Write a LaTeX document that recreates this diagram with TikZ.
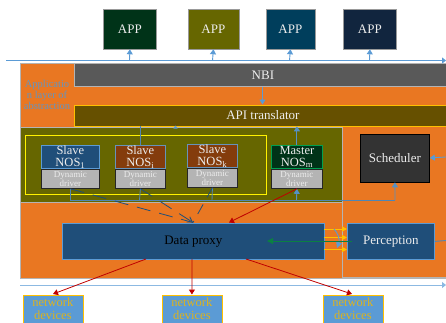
\documentclass[tikz,border=0pt]{standalone}
\usepackage{fontspec}
\setmainfont{Liberation Serif}
\usetikzlibrary{arrows.meta,positioning}
\definecolor{orangebg}{HTML}{E97722}
\definecolor{olive}{HTML}{666600}
\definecolor{brownbar}{HTML}{665000}
\definecolor{barblue}{HTML}{5B9BD5}
\definecolor{navy}{HTML}{1F4E79}
\definecolor{rust}{HTML}{843C0C}
\definecolor{lgray}{HTML}{B4B4B4}
\definecolor{gold}{HTML}{FFC000}
\definecolor{goldtext}{HTML}{DDB31F}
\definecolor{appgreen}{HTML}{003318}
\definecolor{appteal}{HTML}{003E5C}
\definecolor{appnavy}{HTML}{11253E}
\definecolor{mastergreen}{HTML}{003318}
\definecolor{masteredge}{HTML}{00A050}
\definecolor{arrowgreen}{HTML}{0B8043}
\definecolor{nbigray}{HTML}{595959}
\definecolor{schedgray}{HTML}{333333}
\definecolor{linkblue}{HTML}{4F86B5}
\definecolor{dimwhite}{HTML}{EDEDED}
\tikzset{
 box/.style={inner sep=0pt,align=center,anchor=north west},
 big/.style={font=\fontsize{13}{13.5}\selectfont},
 appbox/.style={box,big,draw=gray!80,line width=.8pt,text=dimwhite,minimum height=40pt},
 nosbox/.style={box,line width=.8pt,text=dimwhite,minimum height=23pt,font=\fontsize{12.5}{12}\selectfont},
 drvbox/.style={box,draw=black!85,fill=lgray,line width=.8pt,text=dimwhite,minimum height=19pt,font=\fontsize{9}{9.5}\selectfont},
 netbox/.style={box,draw=gold,fill=barblue,line width=.8pt,text=goldtext,minimum width=60pt,minimum height=28pt,font=\fontsize{12.5}{13.5}\selectfont},
 blueln/.style={barblue,line width=.9pt,-{Triangle[length=5pt,width=6pt]}},
 plainblue/.style={barblue,line width=.9pt},
 linkln/.style={linkblue,line width=.9pt},
 redln/.style={red!75!black,line width=.8pt,-{Triangle[length=5pt,width=6pt]}},
 orgln/.style={gold,line width=1pt,-{Triangle[length=5pt,width=5pt]}},
}
\begin{document}
\begin{tikzpicture}[x=1pt,y=-1pt]
\useasboundingbox (0,0) rectangle (446,322);
% panels
\node[box,draw=lgray,fill=orangebg,line width=.8pt,minimum width=430pt,minimum height=215pt] (outer) at (20,62.5) {};
\node[box,draw=lgray,line width=.8pt,minimum width=110pt,minimum height=150.5pt] (rpanel) at (341.5,126) {};
\node[box,draw=lgray,fill=olive,line width=.8pt,minimum width=321.5pt,minimum height=75.5pt] (olivebox) at (20,126.5) {};
\node[box,draw=yellow,line width=.8pt,minimum width=240.5pt,minimum height=59pt] (yellowbox) at (25,134.5) {};
\node[box,big,draw=lgray,fill=nbigray,text=dimwhite,line width=.8pt,minimum width=377pt,minimum height=23pt] (nbi) at (74,63) {NBI};
\node[box,big,draw=gold,fill=brownbar,text=dimwhite,line width=.8pt,minimum width=377pt,minimum height=21pt] (api) at (74,104.5) {API translator};
\node[align=center,text=barblue!75!gray,font=\fontsize{10.5}{11}\selectfont,inner sep=0pt] (applbl) at (47,94.5) {Applicatio\\n layer of\\abstraction};
% APPs
\node[appbox,fill=appgreen,minimum width=53pt] (a1) at (103,8.5) {APP};
\node[appbox,fill=olive,minimum width=51pt] (a2) at (187.5,8.5) {APP};
\node[appbox,fill=appteal,minimum width=49pt] (a3) at (265.5,8.5) {APP};
\node[appbox,fill=appnavy,minimum width=53pt] (a4) at (343,8.5) {APP};
% rails
\coordinate (railL) at (6,60.5); \coordinate (railR) at (446,60.5);
\draw[plainblue,-{Triangle[length=4pt,width=6pt]}] (railL) -- (railR);
\coordinate (lowL) at (20,285); \coordinate (lowR) at (446,285);
\draw[plainblue,barblue!70!white,-{Triangle[length=4pt,width=6pt]}] (lowL) -- (lowR);
\draw[blueln] (129.5,60.5) -- (a1.south);
\draw[blueln] (212.5,60.5) -- (a2.south);
\draw[blueln] (289.5,60.5) -- (a3.south);
\draw[blueln] (369.5,60.5) -- (a4.south);
% NOS
\node[nosbox,draw=barblue,fill=navy,minimum width=58pt] (s1) at (41,145) {Slave\\NOS\textsubscript{1}};
\node[nosbox,draw=barblue!70!gray,fill=rust,minimum width=50pt] (s2) at (115,145) {Slave\\NOS\textsubscript{i}};
\node[nosbox,draw=barblue!70!gray,fill=rust,minimum width=50pt] (s3) at (187,144) {Slave\\NOS\textsubscript{k}};
\node[nosbox,draw=masteredge,fill=mastergreen,minimum width=51pt] (m) at (271,145) {Master\\NOS\textsubscript{m}};
\node[drvbox,minimum width=58pt] (d1) at (41,169) {Dynamic\\driver};
\node[drvbox,minimum width=50pt] (d2) at (115,169) {Dynamic\\driver};
\node[drvbox,minimum width=50pt] (d3) at (187,168) {Dynamic\\driver};
\node[drvbox,minimum width=51pt] (d4) at (271,169) {Dynamic\\driver};
\node[box,big,draw=black,fill=schedgray,text=dimwhite,line width=.8pt,minimum width=69pt,minimum height=48pt] (sch) at (360,133.5) {Scheduler};
% proxy
\node[box,big,draw=barblue,fill=navy,line width=.8pt,minimum width=262pt,minimum height=36pt,text=black] (dp) at (62,223) {Data proxy};
\node[box,big,draw=barblue,fill=navy,line width=.8pt,minimum width=87pt,minimum height=36pt,text=dimwhite] (per) at (347,223) {Perception};
% net
\node[netbox] (n1) at (22.5,294.5) {network\\devices};
\node[netbox] (n2) at (161.5,294.5) {network\\devices};
\node[netbox] (n3) at (322.5,294.5) {network\\devices};
% blue connectors
\draw[blueln] (nbi.south -| 262.5,0) -- (api.north -| 262.5,0);
\draw[linkln] (d1.south) |- (395,200);
\draw[linkln] (d2.south) -- (139.5,200);
\draw[linkln] (d3.south) -- (212,200);
\draw[blueln,linkblue!50!barblue] (296.5,200) -- (d4.south);
\draw[blueln,linkblue!50!barblue] (395,200) -- (sch.south);
\draw[linkln] (api.south -| s2.north) -- (s2.north);
\draw[blueln,linkblue!50!barblue] (m.north) -- (api.south -| m.north);
\draw[blueln,-{Triangle[length=3pt,width=4pt]}] (175.5,127) -- (175.5,125.5);
\draw[blueln] (446,157) -- (sch.east);
\draw[linkln] (per.east) -- (446,240.5);
% dashed
\coordinate (dptop) at (193,222.5);
\draw[navy,line width=.8pt,dash pattern=on 14pt off 9pt] (d1.south) -- (dptop);
\draw[navy,line width=.8pt,dash pattern=on 14pt off 9pt,-{Straight Barb[length=5pt,width=6pt]}] (d2.south) -- (dptop);
\draw[navy,line width=.8pt,dash pattern=on 11pt off 8pt] (d3.south) -- (dptop);
% red
\draw[redln] (d4.south) -- (229,222.5);
\draw[redln] (146,259) -- (53,294);
\draw[redln] (192,259) -- (n2.north);
\draw[redln] (246,259) -- (352,294);
% gold
\draw[orgln] (324,229) -- (347,229);
\draw[orgln] (324,237.5) -- (347,237.5);
\draw[orgln] (324,249.5) -- (347,249.5);
\draw[barblue,line width=.9pt,-{Triangle[length=6pt,width=6pt]}] (334,229) .. controls (338,233) and (340,240) .. (337,248);
\draw[arrowgreen,line width=1pt,-{Triangle[length=6pt,width=6pt]}] (352,241) -- (267,241);
\end{tikzpicture}
\end{document}
